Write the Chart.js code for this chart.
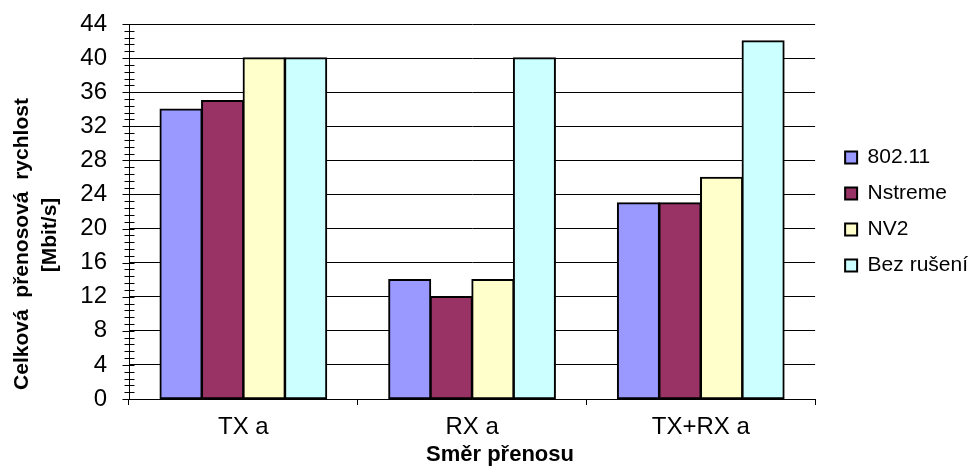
<!DOCTYPE html>
<html>
<head>
<meta charset="utf-8">
<title>Celková přenosová rychlost</title>
<script src="https://cdn.jsdelivr.net/npm/chart.js@4.4.1/dist/chart.umd.min.js"></script>
<style>
    html, body { margin: 0; padding: 0; background: #fff; }
    canvas { display: block; }
</style>
</head>
<body>
<canvas id="rateChart" width="978" height="466"></canvas>
<script>
// Data
const categories = ['TX a', 'RX a', 'TX+RX a'];
const seriesNames = ['802.11', 'Nstreme', 'NV2', 'Bez rušení'];
const values80211 = [34, 14, 23];
const valuesNstreme = [35, 12, 23];
const valuesNV2 = [40, 14, 26];
const valuesBezRuseni = [40, 40, 42];
const seriesColors = ['#9999FF', '#993366', '#FFFFCC', '#CCFFFF'];

const yMax = 44;
const yStep = 4;
const yMinorStep = 0.8;
const yTitleLines = ['Celková  přenosová  rychlost', '[Mbit/s]'];
const xTitle = 'Směr přenosu';

const FONT = "Arial, 'Liberation Sans', sans-serif";
Chart.defaults.font.family = FONT;
Chart.defaults.color = '#000';

/**
 * Value axis tick marks: major ticks outside, minor ticks crossing the axis
 */
const axisTicksPlugin = {
    id: 'axisTicks',
    afterDraw(chart) {
        const y = chart.scales.y;
        const x0 = Math.round(chart.chartArea.left) + 0.5;
        const ctx = chart.ctx;
        ctx.save();
        ctx.strokeStyle = '#000';
        ctx.lineWidth = 1;
        ctx.beginPath();
        const minorCount = Math.round(yMax / yMinorStep);
        for (let i = 0; i <= minorCount; i++) {
            const py = Math.round(y.getPixelForValue(i * yMinorStep)) + 0.5;
            ctx.moveTo(x0 - 5, py);
            ctx.lineTo(x0 + 5, py);
        }
        const majorCount = Math.round(yMax / yStep);
        for (let i = 0; i <= majorCount; i++) {
            const py = Math.round(y.getPixelForValue(i * yStep)) + 0.5;
            ctx.moveTo(x0 - 7, py);
            ctx.lineTo(x0, py);
        }
        ctx.stroke();
        ctx.restore();
    }
};

/**
 * Axis titles placed like the Excel original (not centred on the plot)
 */
const axisTitlesPlugin = {
    id: 'axisTitles',
    afterDraw(chart) {
        const ctx = chart.ctx;
        const spots = [[28, 244], [56, 235]];
        ctx.save();
        ctx.fillStyle = '#000';
        ctx.font = 'bold 21px ' + FONT;
        ctx.textAlign = 'center';
        ctx.textBaseline = 'alphabetic';
        yTitleLines.forEach(function(line, i) {
            ctx.save();
            ctx.translate(spots[i][0], spots[i][1]);
            ctx.rotate(-Math.PI / 2);
            ctx.fillText(line, 0, 0);
            ctx.restore();
        });
        ctx.font = 'bold 22px ' + FONT;
        ctx.fillText(xTitle, 500, 461);
        ctx.restore();
    }
};

const seriesValues = [values80211, valuesNstreme, valuesNV2, valuesBezRuseni];

const datasets = seriesNames.map(function(name, i) {
    return {
        label: name,
        data: seriesValues[i],
        backgroundColor: seriesColors[i],
        borderColor: '#000',
        borderWidth: 2,
        borderSkipped: false,
        inflateAmount: 0.75,
        categoryPercentage: 0.727,
        barPercentage: 1
    };
});

new Chart(document.getElementById('rateChart'), {
    type: 'bar',
    data: {
        labels: categories,
        datasets: datasets
    },
    options: {
        responsive: false,
        animation: false,
        layout: {
            padding: { top: 24, right: 0, bottom: 0, left: 0 }
        },
        scales: {
            x: {
                ticks: {
                    color: '#000',
                    font: { size: 24 },
                    padding: 8
                },
                grid: {
                    offset: true,
                    drawOnChartArea: false,
                    drawTicks: true,
                    tickLength: 6,
                    color: '#000'
                },
                border: { color: '#000', width: 1 },
                afterFit: function(scale) {
                    scale.height = 67;
                }
            },
            y: {
                min: 0,
                max: yMax,
                ticks: {
                    stepSize: yStep,
                    color: '#000',
                    font: { size: 24 },
                    padding: 2
                },
                grid: {
                    color: '#000',
                    tickColor: 'rgba(0,0,0,0)',
                    tickLength: 20
                },
                border: { color: '#000', width: 1 },
                afterFit: function(scale) {
                    scale.width = 129;
                }
            },
            legendGap: {
                type: 'linear',
                position: 'right',
                grid: { display: false },
                ticks: { display: false },
                border: { display: false },
                afterFit: function(scale) {
                    scale.width = 15;
                }
            }
        },
        plugins: {
            legend: {
                position: 'right',
                align: 'center',
                fullSize: false,
                labels: {
                    color: '#000',
                    font: { size: 21 },
                    boxWidth: 12,
                    boxHeight: 12,
                    padding: 15
                }
            },
            tooltip: { enabled: false }
        }
    },
    plugins: [axisTicksPlugin, axisTitlesPlugin]
});
</script>
</body>
</html>
